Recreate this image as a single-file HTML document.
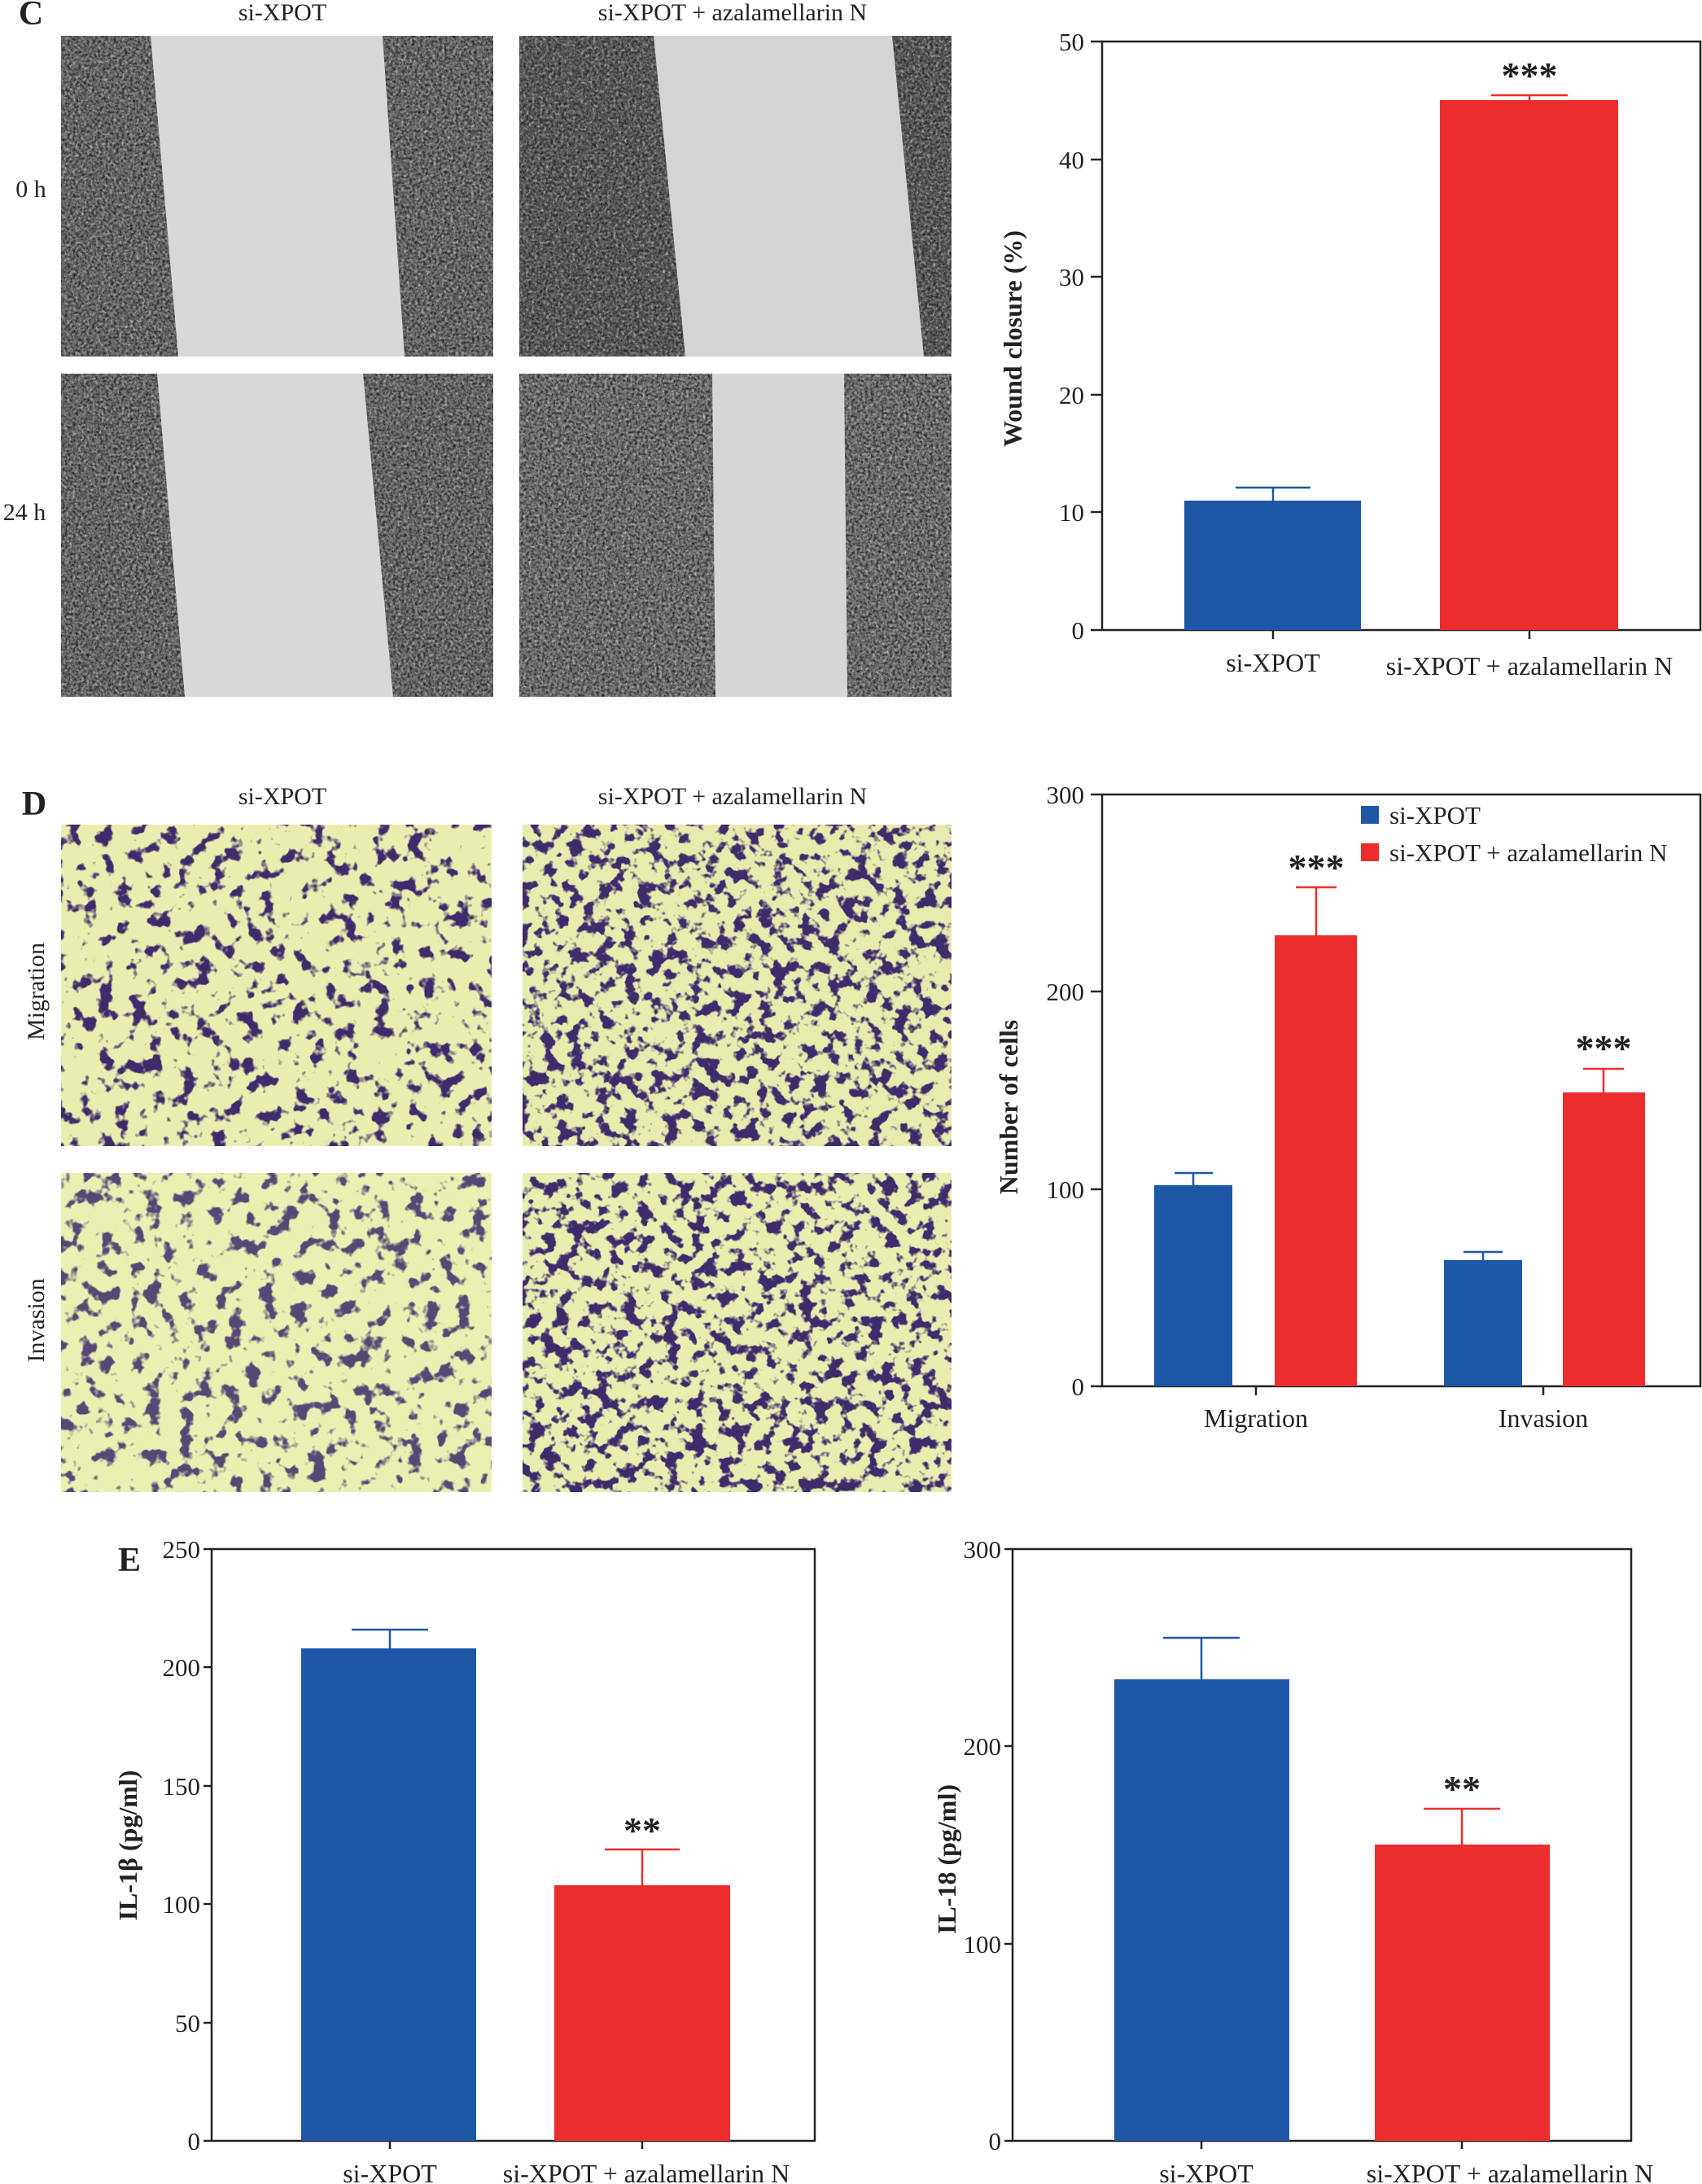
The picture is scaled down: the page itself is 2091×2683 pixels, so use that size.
<!DOCTYPE html>
<html><head><meta charset="utf-8"><style>
html,body{margin:0;padding:0;background:#fff}
svg{display:block}
text{font-family:"Liberation Serif",serif;fill:#222}
</style></head><body>
<svg width="2091" height="2683" viewBox="0 0 2091 2683" xmlns="http://www.w3.org/2000/svg">
<defs>
<filter id="grain" x="0" y="0" width="100%" height="100%" color-interpolation-filters="sRGB">
<feTurbulence type="fractalNoise" baseFrequency="0.3" numOctaves="2" seed="3"/>
<feColorMatrix type="matrix" values="0 0 0 0 0.15  0 0 0 0 0.15  0 0 0 0 0.15  2.4 0 0 0 -0.9"/>
</filter>
<filter id="grainw" x="0" y="0" width="100%" height="100%" color-interpolation-filters="sRGB">
<feTurbulence type="fractalNoise" baseFrequency="0.28" numOctaves="2" seed="9"/>
<feColorMatrix type="matrix" values="0 0 0 0 1  0 0 0 0 1  0 0 0 0 1  2.2 0 0 0 -1.1"/>
</filter>
<filter id="cells1" x="0" y="0" width="100%" height="100%" color-interpolation-filters="sRGB">
<feTurbulence type="fractalNoise" baseFrequency="0.05" numOctaves="3" seed="4"/>
<feColorMatrix type="matrix" values="0 0 0 0 0.24  0 0 0 0 0.17  0 0 0 0 0.42  10 0 0 0 -5.6"/>
</filter>
<filter id="cells2" x="0" y="0" width="100%" height="100%" color-interpolation-filters="sRGB">
<feTurbulence type="fractalNoise" baseFrequency="0.06" numOctaves="3" seed="7"/>
<feColorMatrix type="matrix" values="0 0 0 0 0.24  0 0 0 0 0.17  0 0 0 0 0.42  10 0 0 0 -5.2"/>
</filter>
</defs>

<!-- Panel C images -->
<text x="38" y="30" font-size="42" font-weight="bold" text-anchor="middle">C</text>
<text x="347" y="25" font-size="30" text-anchor="middle">si-XPOT</text>
<text x="900" y="25" font-size="30" text-anchor="middle">si-XPOT + azalamellarin N</text>
<text x="38" y="242" font-size="30" text-anchor="middle">0 h</text>
<text x="30" y="639" font-size="30" text-anchor="middle">24 h</text>

<g>
<rect x="75" y="44" width="531" height="394" fill="#6f6f6f"/>
<rect x="75" y="44" width="531" height="394" filter="url(#grain)"/>
<rect x="75" y="44" width="531" height="394" filter="url(#grainw)" opacity="0.6"/>
<polygon points="185,44 470,44 497,438 219,438" fill="#d8d8d8"/>
</g>
<g>
<rect x="638" y="44" width="531" height="394" fill="#5f5f5f"/>
<rect x="638" y="44" width="531" height="394" filter="url(#grain)"/>
<rect x="638" y="44" width="531" height="394" filter="url(#grainw)" opacity="0.6"/>
<polygon points="803,44 1096,44 1135,438 842,438" fill="#d4d4d4"/>
</g>
<g>
<rect x="75" y="459" width="531" height="397" fill="#707070"/>
<rect x="75" y="459" width="531" height="397" filter="url(#grain)"/>
<rect x="75" y="459" width="531" height="397" filter="url(#grainw)" opacity="0.6"/>
<polygon points="193,459 446,459 483,856 227,856" fill="#d8d8d8"/>
</g>
<g>
<rect x="638" y="459" width="531" height="397" fill="#777"/>
<rect x="638" y="459" width="531" height="397" filter="url(#grain)"/>
<rect x="638" y="459" width="531" height="397" filter="url(#grainw)" opacity="0.6"/>
<polygon points="875,459 1037,459 1041,856 879,856" fill="#d6d6d6"/>
</g>

<!-- Chart C -->
<rect x="1354" y="51" width="735" height="723" stroke="#222" stroke-width="2.5" fill="none"/>
<rect x="1455" y="615" width="217" height="159" fill="#1f57a7"/>
<rect x="1769" y="123" width="219" height="651" fill="#ec2d2d"/>
<g stroke="#1f57a7" stroke-width="2.5"><line x1="1564" y1="615" x2="1564" y2="599"/><line x1="1518" y1="599" x2="1610" y2="599"/></g>
<g stroke="#ec2d2d" stroke-width="2.5"><line x1="1879" y1="123" x2="1879" y2="117"/><line x1="1832" y1="117" x2="1926" y2="117"/></g>
<text x="1879" y="108" font-size="46" font-weight="bold" text-anchor="middle" font-family="Liberation Sans">***</text>
<g stroke="#222" stroke-width="2.5">
<line x1="1340" y1="51" x2="1354" y2="51"/><line x1="1340" y1="196" x2="1354" y2="196"/><line x1="1340" y1="340" x2="1354" y2="340"/><line x1="1340" y1="485" x2="1354" y2="485"/><line x1="1340" y1="629" x2="1354" y2="629"/><line x1="1340" y1="774" x2="1354" y2="774"/>
<line x1="1564" y1="774" x2="1564" y2="785"/><line x1="1879" y1="774" x2="1879" y2="785"/>
</g>
<g font-size="31" text-anchor="end">
<text x="1332" y="62">50</text><text x="1332" y="207">40</text><text x="1332" y="351">30</text><text x="1332" y="496">20</text><text x="1332" y="640">10</text><text x="1332" y="785">0</text>
</g>
<text x="1564" y="825" font-size="32" text-anchor="middle">si-XPOT</text>
<text x="1879" y="829" font-size="32" text-anchor="middle">si-XPOT + azalamellarin N</text>
<text transform="translate(1255,416) rotate(-90)" font-size="32" font-weight="bold" text-anchor="middle">Wound closure (%)</text>

<!-- Panel D images -->
<text x="42" y="1001" font-size="42" font-weight="bold" text-anchor="middle">D</text>
<text x="347" y="988" font-size="30" text-anchor="middle">si-XPOT</text>
<text x="900" y="988" font-size="30" text-anchor="middle">si-XPOT + azalamellarin N</text>
<text transform="translate(54,1218) rotate(-90)" font-size="30" text-anchor="middle">Migration</text>
<text transform="translate(54,1622) rotate(-90)" font-size="30" text-anchor="middle">Invasion</text>
<rect x="75" y="1013" width="529" height="395" fill="#e9eeb0"/>
<rect x="75" y="1013" width="529" height="395" filter="url(#cells1)"/>
<rect x="642" y="1013" width="527" height="395" fill="#e6ebae"/>
<rect x="642" y="1013" width="527" height="395" filter="url(#cells2)"/>
<rect x="75" y="1441" width="529" height="392" fill="#eaefb2"/>
<rect x="75" y="1441" width="529" height="392" filter="url(#cells1)" opacity="0.85"/>
<rect x="642" y="1441" width="527" height="392" fill="#e8edb0"/>
<rect x="642" y="1441" width="527" height="392" filter="url(#cells2)"/>

<!-- Chart D -->
<rect x="1354" y="976" width="735" height="727" stroke="#222" stroke-width="2.5" fill="none"/>
<rect x="1418" y="1456" width="96" height="247" fill="#1f57a7"/>
<rect x="1566" y="1149" width="101" height="554" fill="#ec2d2d"/>
<rect x="1774" y="1548" width="96" height="155" fill="#1f57a7"/>
<rect x="1920" y="1342" width="101" height="361" fill="#ec2d2d"/>
<g stroke="#1f57a7" stroke-width="2.5"><line x1="1466" y1="1456" x2="1466" y2="1441"/><line x1="1443" y1="1441" x2="1490" y2="1441"/>
<line x1="1822" y1="1548" x2="1822" y2="1538"/><line x1="1798" y1="1538" x2="1846" y2="1538"/></g>
<g stroke="#ec2d2d" stroke-width="2.5"><line x1="1617" y1="1149" x2="1617" y2="1090"/><line x1="1592" y1="1090" x2="1642" y2="1090"/>
<line x1="1970" y1="1342" x2="1970" y2="1313"/><line x1="1945" y1="1313" x2="1995" y2="1313"/></g>
<text x="1617" y="1081" font-size="46" font-weight="bold" text-anchor="middle" font-family="Liberation Sans">***</text>
<text x="1970" y="1303" font-size="46" font-weight="bold" text-anchor="middle" font-family="Liberation Sans">***</text>
<rect x="1672" y="990" width="22" height="22" fill="#1f57a7"/>
<rect x="1672" y="1036" width="22" height="22" fill="#ec2d2d"/>
<text x="1707" y="1012" font-size="31">si-XPOT</text>
<text x="1707" y="1058" font-size="31">si-XPOT + azalamellarin N</text>
<g stroke="#222" stroke-width="2.5">
<line x1="1340" y1="976" x2="1354" y2="976"/><line x1="1340" y1="1218" x2="1354" y2="1218"/><line x1="1340" y1="1461" x2="1354" y2="1461"/><line x1="1340" y1="1703" x2="1354" y2="1703"/>
<line x1="1543" y1="1703" x2="1543" y2="1714"/><line x1="1896" y1="1703" x2="1896" y2="1714"/>
</g>
<g font-size="31" text-anchor="end">
<text x="1332" y="987">300</text><text x="1332" y="1229">200</text><text x="1332" y="1472">100</text><text x="1332" y="1714">0</text>
</g>
<text x="1543" y="1753" font-size="32" text-anchor="middle">Migration</text>
<text x="1896" y="1753" font-size="32" text-anchor="middle">Invasion</text>
<text transform="translate(1250,1360) rotate(-90)" font-size="32" font-weight="bold" text-anchor="middle">Number of cells</text>

<!-- Chart E left -->
<text x="159" y="1930" font-size="42" font-weight="bold" text-anchor="middle">E</text>
<rect x="260" y="1903" width="741" height="727" stroke="#222" stroke-width="2.5" fill="none"/>
<rect x="370" y="2025" width="215" height="605" fill="#1f57a7"/>
<rect x="681" y="2316" width="216" height="314" fill="#ec2d2d"/>
<g stroke="#1f57a7" stroke-width="2.5"><line x1="479" y1="2025" x2="479" y2="2002"/><line x1="432" y1="2002" x2="526" y2="2002"/></g>
<g stroke="#ec2d2d" stroke-width="2.5"><line x1="789" y1="2316" x2="789" y2="2272"/><line x1="743" y1="2272" x2="835" y2="2272"/></g>
<text x="789" y="2264" font-size="46" font-weight="bold" text-anchor="middle" font-family="Liberation Sans">**</text>
<g stroke="#222" stroke-width="2.5">
<line x1="250" y1="1903" x2="260" y2="1903"/><line x1="250" y1="2048" x2="260" y2="2048"/><line x1="250" y1="2194" x2="260" y2="2194"/><line x1="250" y1="2339" x2="260" y2="2339"/><line x1="250" y1="2485" x2="260" y2="2485"/><line x1="250" y1="2630" x2="260" y2="2630"/>
<line x1="479" y1="2630" x2="479" y2="2640"/><line x1="789" y1="2630" x2="789" y2="2640"/>
</g>
<g font-size="31" text-anchor="end">
<text x="246" y="1914">250</text><text x="246" y="2059">200</text><text x="246" y="2205">150</text><text x="246" y="2350">100</text><text x="246" y="2496">50</text><text x="246" y="2641">0</text>
</g>
<text x="479" y="2681" font-size="32" text-anchor="middle">si-XPOT</text>
<text x="794" y="2681" font-size="32" text-anchor="middle">si-XPOT + azalamellarin N</text>
<text transform="translate(168,2267) rotate(-90)" font-size="32" font-weight="bold" text-anchor="middle">IL-1β (pg/ml)</text>

<!-- Chart E right -->
<rect x="1244" y="1903" width="760" height="727" stroke="#222" stroke-width="2.5" fill="none"/>
<rect x="1369" y="2063" width="215" height="567" fill="#1f57a7"/>
<rect x="1689" y="2266" width="215" height="364" fill="#ec2d2d"/>
<g stroke="#1f57a7" stroke-width="2.5"><line x1="1476" y1="2063" x2="1476" y2="2012"/><line x1="1429" y1="2012" x2="1523" y2="2012"/></g>
<g stroke="#ec2d2d" stroke-width="2.5"><line x1="1796" y1="2266" x2="1796" y2="2222"/><line x1="1749" y1="2222" x2="1843" y2="2222"/></g>
<text x="1796" y="2213" font-size="46" font-weight="bold" text-anchor="middle" font-family="Liberation Sans">**</text>
<g stroke="#222" stroke-width="2.5">
<line x1="1234" y1="1903" x2="1244" y2="1903"/><line x1="1234" y1="2145" x2="1244" y2="2145"/><line x1="1234" y1="2388" x2="1244" y2="2388"/><line x1="1234" y1="2630" x2="1244" y2="2630"/>
<line x1="1476" y1="2630" x2="1476" y2="2640"/><line x1="1796" y1="2630" x2="1796" y2="2640"/>
</g>
<g font-size="31" text-anchor="end">
<text x="1230" y="1914">300</text><text x="1230" y="2156">200</text><text x="1230" y="2399">100</text><text x="1230" y="2641">0</text>
</g>
<text x="1482" y="2681" font-size="32" text-anchor="middle">si-XPOT</text>
<text x="1855" y="2681" font-size="32" text-anchor="middle">si-XPOT + azalamellarin N</text>
<text transform="translate(1174,2284) rotate(-90)" font-size="32" font-weight="bold" text-anchor="middle">IL-18 (pg/ml)</text>
</svg>
</body></html>
